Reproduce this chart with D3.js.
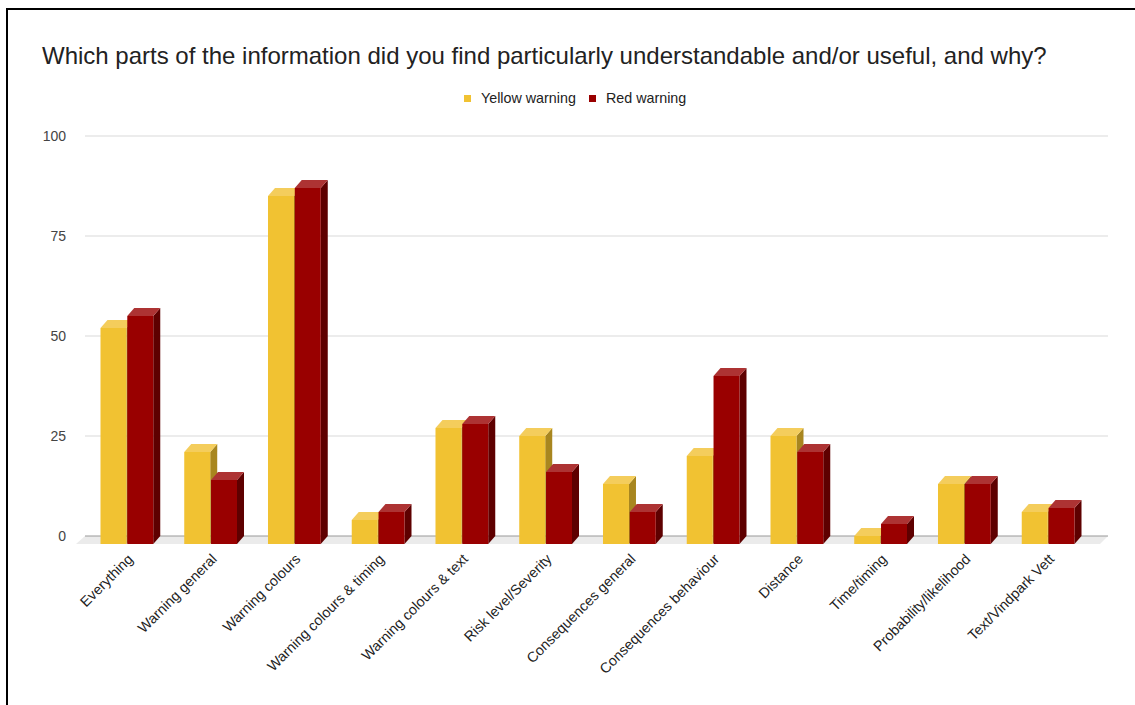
<!DOCTYPE html>
<html>
<head>
<meta charset="utf-8">
<script src="https://cdn.jsdelivr.net/npm/d3@7"></script>
<style>
  body { margin: 0; background: #fff; }
  svg text { font-family: "Liberation Sans", Arial, sans-serif; }
</style>
</head>
<body>
<div id="chart"></div>
<script>
var categories = ["Everything", "Warning general", "Warning colours", "Warning colours & timing",
    "Warning colours & text", "Risk level/Severity", "Consequences general", "Consequences behaviour",
    "Distance", "Time/timing", "Probability/likelihood", "Text/Vindpark Vett"];
var seriesNames = ["Yellow warning", "Red warning"];
var yellowValues = [54, 23, 87, 6, 29, 27, 15, 22, 27, 2, 15, 8];
var redValues = [57, 16, 89, 8, 30, 18, 8, 42, 23, 5, 15, 9];
var yTicks = [0, 25, 50, 75, 100];

function init() {
    var w = 1135, h = 705;
    var left = 85, right = 1108, top = 136, base = 536;
    var dx = 7, dy = 8; // 3d depth offset

    // face colours: front, top, side
    var faces = {
        "Yellow warning": ["#f1c232", "#f4cd5c", "#a8861f"],
        "Red warning": ["#990000", "#ad3333", "#5e0000"]
    };

    var svg = d3.select("#chart").append("svg").attr("width", w).attr("height", h);

    // frame
    svg.append("rect").attr("x", 7).attr("y", 9).attr("width", w + 10).attr("height", h + 10)
        .attr("fill", "#fff").attr("stroke", "#000").attr("stroke-width", 2);

    svg.append("text").attr("x", 42).attr("y", 64)
        .attr("font-size", 24).attr("fill", "#222")
        .text("Which parts of the information did you find particularly understandable and/or useful, and why?");

    // legend
    var legend = svg.append("g").attr("transform", "translate(464,92)");
    var lx = [0, 125];
    seriesNames.forEach(function (s, i) {
        legend.append("rect").attr("x", lx[i]).attr("y", 3).attr("width", 7).attr("height", 7)
            .attr("fill", faces[s][0]);
        legend.append("text").attr("x", lx[i] + 17).attr("y", 11)
            .attr("font-size", 14.3).attr("fill", "#222").text(s);
    });

    var yScale = d3.scaleLinear().domain([0, 100]).range([base, top]);
    var xScale = d3.scaleBand().domain(categories).range([left, 1090]).paddingInner(0.37).paddingOuter(0.185);
    var x1 = d3.scaleBand().domain(seriesNames).range([0, xScale.bandwidth()]).paddingInner(0.03);

    // floor
    svg.append("path")
        .attr("d", "M" + left + "," + base + "L" + right + "," + base + "L" + (right - dx - 1) + "," + (base + dy)
            + "L" + (left - dx - 2) + "," + (base + dy) + "Z")
        .attr("fill", "#ebebeb");

    // gridlines
    svg.append("g").selectAll("line").data(yTicks.filter(function (d) { return d > 0; }))
        .enter().append("line")
        .attr("x1", left).attr("x2", right)
        .attr("y1", function (d) { return yScale(d); }).attr("y2", function (d) { return yScale(d); })
        .attr("stroke", "#d9d9d9").attr("stroke-width", 1);
    svg.append("line").attr("x1", left).attr("x2", right).attr("y1", base).attr("y2", base)
        .attr("stroke", "#999").attr("stroke-width", 1);

    var yAxis = d3.axisLeft(yScale).tickValues(yTicks).tickSize(0).tickPadding(19);
    var ga = svg.append("g").attr("transform", "translate(" + left + ",0)").call(yAxis);
    ga.select(".domain").remove();
    ga.selectAll("text").attr("font-size", 14).attr("fill", "#444").style("font-family", "Liberation Sans, Arial, sans-serif");

    // bars
    var rows = categories.map(function (c, i) {
        return [{ cat: c, s: seriesNames[0], v: yellowValues[i] }, { cat: c, s: seriesNames[1], v: redValues[i] }];
    });
    var bw = x1.bandwidth();
    var groups = svg.append("g").selectAll("g").data(rows).enter().append("g");
    groups.selectAll("g").data(function (d) { return d; }).enter().append("g").each(function (d) {
        var g = d3.select(this);
        var x = xScale(d.cat) + x1(d.s);
        var fy = yScale(d.v) + dy;
        var fb = base + dy;
        var col = faces[d.s];
        g.append("path")
            .attr("d", "M" + (x + bw) + "," + fy + "L" + (x + bw + dx) + "," + (fy - dy) + "L" + (x + bw + dx) + "," + (fb - dy)
                + "L" + (x + bw) + "," + fb + "Z")
            .attr("fill", col[2]);
        g.append("path")
            .attr("d", "M" + x + "," + fy + "L" + (x + dx) + "," + (fy - dy) + "L" + (x + bw + dx) + "," + (fy - dy)
                + "L" + (x + bw) + "," + fy + "Z")
            .attr("fill", col[1]);
        g.append("rect").attr("x", x).attr("y", fy).attr("width", bw).attr("height", fb - fy)
            .attr("fill", col[0]);
    });

    // x labels
    svg.append("g").selectAll("text").data(categories).enter().append("text")
        .attr("transform", function (d) {
            return "translate(" + (xScale(d) + xScale.bandwidth() / 2 + 7) + ",560) rotate(-45)";
        })
        .attr("text-anchor", "end")
        .attr("font-size", 14.3).attr("fill", "#222")
        .text(function (d) { return d; });
}
window.onload = init;
</script>
</body>
</html>
